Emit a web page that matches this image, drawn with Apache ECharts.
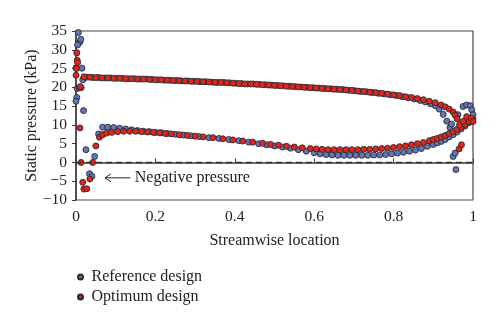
<!DOCTYPE html>
<html>
<head>
<meta charset="utf-8">
<script src="https://cdn.jsdelivr.net/npm/echarts@6/dist/echarts.min.js"></script>
<style>
html,body{margin:0;padding:0;background:#fff;}
#chart{width:500px;height:328px;}
</style>
</head>
<body>
<div id="chart"></div>
<script>
// ---- Data ----
var seriesNames = ['Reference design', 'Optimum design'];

// Pressure-side branch (upper curve)
var xUpperRef = [0.027,0.042,0.057,0.072,0.087,0.102,0.117,0.132,0.147,0.162,0.177,0.192,0.207,0.222,0.237,0.252,0.267,0.282,0.297,0.312,0.327,0.342,0.357,0.372,0.387,0.402,0.417,0.432,0.447,0.462,0.477,0.492,0.507,0.522,0.537,0.552,0.567,0.582,0.597,0.612,0.627,0.642,0.657,0.672,0.687,0.702,0.717,0.732,0.747,0.762,0.777,0.792,0.807,0.822,0.837,0.852,0.867,0.88,0.893,0.905,0.915,0.925,0.934,0.942];
var yUpperRef = [22.7,22.6,22.6,22.5,22.5,22.4,22.4,22.3,22.3,22.2,22.2,22.1,22.0,21.9,21.9,21.8,21.7,21.7,21.6,21.5,21.5,21.4,21.3,21.3,21.2,21.1,21.0,20.9,20.9,20.8,20.7,20.6,20.5,20.4,20.3,20.2,20.1,20.0,19.9,19.8,19.7,19.6,19.5,19.4,19.2,19.1,18.9,18.8,18.6,18.4,18.2,18.0,17.8,17.5,17.2,16.9,16.5,16.1,15.6,15.1,14.2,12.8,11.0,9.3];
var xUpperOpt = [0.02,0.035,0.05,0.065,0.08,0.095,0.11,0.125,0.14,0.155,0.17,0.185,0.2,0.215,0.23,0.245,0.26,0.275,0.29,0.305,0.32,0.335,0.35,0.365,0.38,0.395,0.41,0.425,0.44,0.455,0.47,0.485,0.5,0.515,0.53,0.545,0.56,0.575,0.59,0.605,0.62,0.635,0.65,0.665,0.68,0.695,0.71,0.725,0.74,0.755,0.77,0.785,0.8,0.815,0.83,0.845,0.86,0.875,0.89,0.905,0.92,0.93,0.94,0.95];
var yUpperOpt = [22.8,22.7,22.6,22.5,22.5,22.4,22.4,22.3,22.3,22.2,22.2,22.1,22.0,22.0,21.9,21.8,21.8,21.7,21.6,21.6,21.5,21.4,21.3,21.3,21.2,21.1,21.0,20.9,20.9,20.8,20.7,20.6,20.5,20.4,20.3,20.2,20.1,20.0,19.9,19.8,19.7,19.6,19.5,19.4,19.3,19.2,19.0,18.9,18.7,18.6,18.4,18.2,18.0,17.8,17.5,17.3,17.0,16.7,16.3,15.9,15.3,14.8,14.2,13.4];

// Suction-side branch (lower curve)
var xLowerRef = [0.057,0.067,0.08,0.095,0.11,0.125,0.14,0.155,0.17,0.185,0.2,0.215,0.23,0.25,0.27,0.29,0.31,0.335,0.36,0.385,0.41,0.435,0.46,0.48,0.5,0.52,0.54,0.56,0.58,0.6,0.615,0.63,0.645,0.66,0.675,0.69,0.705,0.72,0.735,0.75,0.765,0.78,0.795,0.81,0.825,0.84,0.855,0.87,0.885,0.9,0.91,0.92,0.93,0.94,0.95,0.96,0.97,0.98,0.99,1.0];
var yLowerRef = [7.6,9.4,9.4,9.3,9.1,8.9,8.7,8.5,8.3,8.2,8.0,7.9,7.7,7.5,7.3,7.1,6.9,6.6,6.4,6.1,5.8,5.4,5.0,4.7,4.4,4.1,3.8,3.4,3.0,2.6,2.3,2.1,2.0,1.9,1.9,1.9,1.9,1.9,1.9,2.0,2.0,2.1,2.3,2.5,2.7,3.0,3.3,3.7,4.3,4.8,5.2,5.6,6.1,6.8,7.4,8.1,8.9,9.7,10.6,11.5];
var xLowerOpt = [0.059,0.067,0.077,0.09,0.105,0.12,0.135,0.15,0.165,0.18,0.195,0.21,0.225,0.24,0.26,0.28,0.3,0.32,0.345,0.37,0.395,0.42,0.445,0.47,0.49,0.51,0.53,0.55,0.57,0.59,0.605,0.62,0.635,0.65,0.665,0.68,0.695,0.71,0.725,0.74,0.755,0.77,0.785,0.8,0.815,0.83,0.845,0.86,0.875,0.89,0.9,0.91,0.92,0.93,0.94,0.95,0.96,0.97,0.98,0.99];
var yLowerOpt = [6.7,7.4,7.8,8.0,8.2,8.3,8.3,8.3,8.2,8.1,8.0,7.9,7.7,7.6,7.4,7.2,7.0,6.8,6.6,6.3,6.0,5.7,5.4,5.1,4.8,4.6,4.3,4.1,3.9,3.7,3.6,3.5,3.4,3.4,3.4,3.4,3.4,3.4,3.5,3.5,3.6,3.7,3.8,4.0,4.2,4.4,4.7,5.0,5.3,5.8,6.1,6.4,6.8,7.2,7.7,8.2,8.8,9.4,10.1,10.8];

// Leading-edge points
var xLeRef = [0.006,0.010,0.012,0.004,0.000,0.015,0.017,0.003,0.013,0.002,0.000,0.019,0.025,0.034,0.040,0.047];
var yLeRef = [34.6,32.1,32.8,31.3,25.2,25.1,22.0,19.7,19.9,17.3,16.3,13.8,3.4,-3.0,-3.7,1.6];
var xLeOpt = [0.002,0.003,0.004,0.001,0.000,0.008,0.011,0.010,0.013,0.017,0.020,0.027,0.035,0.042,0.050];
var yLeOpt = [29.2,27.2,26.6,25.0,23.2,19.9,20.2,9.2,0.0,-5.3,-7.1,-7.0,-4.4,0.0,4.4];

// Trailing-edge points
var xTeRef = [0.946,0.950,0.955,0.957,0.962,0.975,0.984,0.993,0.997,1.000];
var yTeRef = [10.2,1.6,2.5,-1.9,12.7,14.9,15.3,15.1,14.0,12.7];
var xTeOpt = [0.955,0.960,0.965,0.966,0.971,0.975,0.984,0.996,1.000];
var yTeOpt = [12.6,11.6,3.6,10.0,4.7,10.9,12.2,11.8,10.9];

// Axis ticks
var xTicks = [0, 0.2, 0.4, 0.6, 0.8, 1];
var yTicks = [-10, -5, 0, 5, 10, 15, 20, 25, 30, 35];

// Annotation (data coordinates)
var annoArrowFrom = [0.137, -4.1];
var annoArrowTo = [0.073, -4.1];
var annoText = 'Negative pressure';
var annoTextAt = [0.148, -4.1];

// ---- Build ----
function zip(xs, ys) { var o = []; for (var i = 0; i < xs.length; i++) o.push([xs[i], ys[i]]); return o; }
var refData = [].concat(zip(xUpperRef, yUpperRef), zip(xLowerRef, yLowerRef), zip(xLeRef, yLeRef), zip(xTeRef, yTeRef));
var optData = [].concat(zip(xUpperOpt, yUpperOpt), zip(xLowerOpt, yLowerOpt), zip(xLeOpt, yLeOpt), zip(xTeOpt, yTeOpt));

var FONT = '"Liberation Serif", "Times New Roman", serif';
var chart = echarts.init(document.getElementById('chart'), null, {renderer: 'canvas'});

var option = {
  animation: false,
  backgroundColor: '#fff',
  grid: {left: 76, right: 27, top: 31, bottom: 128, show: true, borderColor: '#4a4a4a', borderWidth: 1.2},
  xAxis: {
    type: 'value', min: xTicks[0], max: xTicks[xTicks.length - 1], interval: 0.2,
    name: 'Streamwise location', nameLocation: 'middle', nameGap: 33, nameMoveOverlap: false,
    nameTextStyle: {fontFamily: FONT, fontSize: 16, color: '#222'},
    axisLine: {lineStyle: {color: '#3a3a3a', width: 1.5}},
    axisTick: {inside: true, length: 4, lineStyle: {color: '#3a3a3a'}},
    axisLabel: {fontFamily: FONT, fontSize: 15.5, color: '#222', margin: 9,
      formatter: function (v) { return String(+v.toFixed(1)); }},
    splitLine: {show: false}
  },
  yAxis: {
    type: 'value', min: yTicks[0], max: yTicks[yTicks.length - 1], interval: 5,
    name: 'Static pressure (kPa)', nameLocation: 'middle', nameGap: 36, nameMoveOverlap: false,
    nameTextStyle: {fontFamily: FONT, fontSize: 16, color: '#222'},
    axisLine: {show: true, lineStyle: {color: '#3a3a3a', width: 1.5}},
    axisTick: {show: true, length: 4, lineStyle: {color: '#3a3a3a'}},
    axisLabel: {fontFamily: FONT, fontSize: 15.5, color: '#222', margin: 9,
      formatter: function (v) { return v < 0 ? '\u2212' + Math.abs(v) : String(v); }},
    splitLine: {show: false}
  },
  legend: {
    orient: 'vertical', left: 72, top: 264, itemGap: 4, itemWidth: 12, itemHeight: 5,
    icon: 'circle',
    textStyle: {fontFamily: FONT, fontSize: 16, color: '#222'},
    data: seriesNames
  },
  series: [
    {
      name: seriesNames[0], type: 'scatter', symbol: 'circle', symbolSize: 6,
      itemStyle: {color: '#6076bd', borderColor: '#2a2a2a', borderWidth: 0.9, opacity: 1},
      data: refData, z: 3,
      markLine: {
        silent: true, symbol: ['none', 'none'], animation: false,
        label: {show: false},
        lineStyle: {color: '#333', type: [6, 4], width: 1.3},
        data: [{yAxis: 0}]
      }
    },
    {
      name: seriesNames[1], type: 'scatter', symbol: 'circle', symbolSize: 6,
      itemStyle: {color: '#e3241d', borderColor: '#2a2a2a', borderWidth: 0.9, opacity: 1},
      data: optData, z: 4
    }
  ]
};
chart.setOption(option);

// Annotation arrow and text positioned from data coordinates
function drawAnno() {
  var a = chart.convertToPixel({gridIndex: 0}, annoArrowFrom);
  var b = chart.convertToPixel({gridIndex: 0}, annoArrowTo);
  var t = chart.convertToPixel({gridIndex: 0}, annoTextAt);
  chart.setOption({
    graphic: [
      {type: 'line', shape: {x1: a[0], y1: a[1], x2: b[0], y2: b[1]}, style: {stroke: '#222', lineWidth: 1}, z: 10},
      {type: 'polyline', shape: {points: [[b[0] + 6, b[1] - 4], [b[0], b[1]], [b[0] + 6, b[1] + 4]]}, style: {stroke: '#222', lineWidth: 1, fill: null}, z: 10},
      {type: 'text', x: t[0], y: t[1], style: {text: annoText, font: '16px ' + FONT, fill: '#222', textVerticalAlign: 'middle', verticalAlign: 'middle'}, z: 10}
    ]
  });
}
drawAnno();
</script>
</body>
</html>
